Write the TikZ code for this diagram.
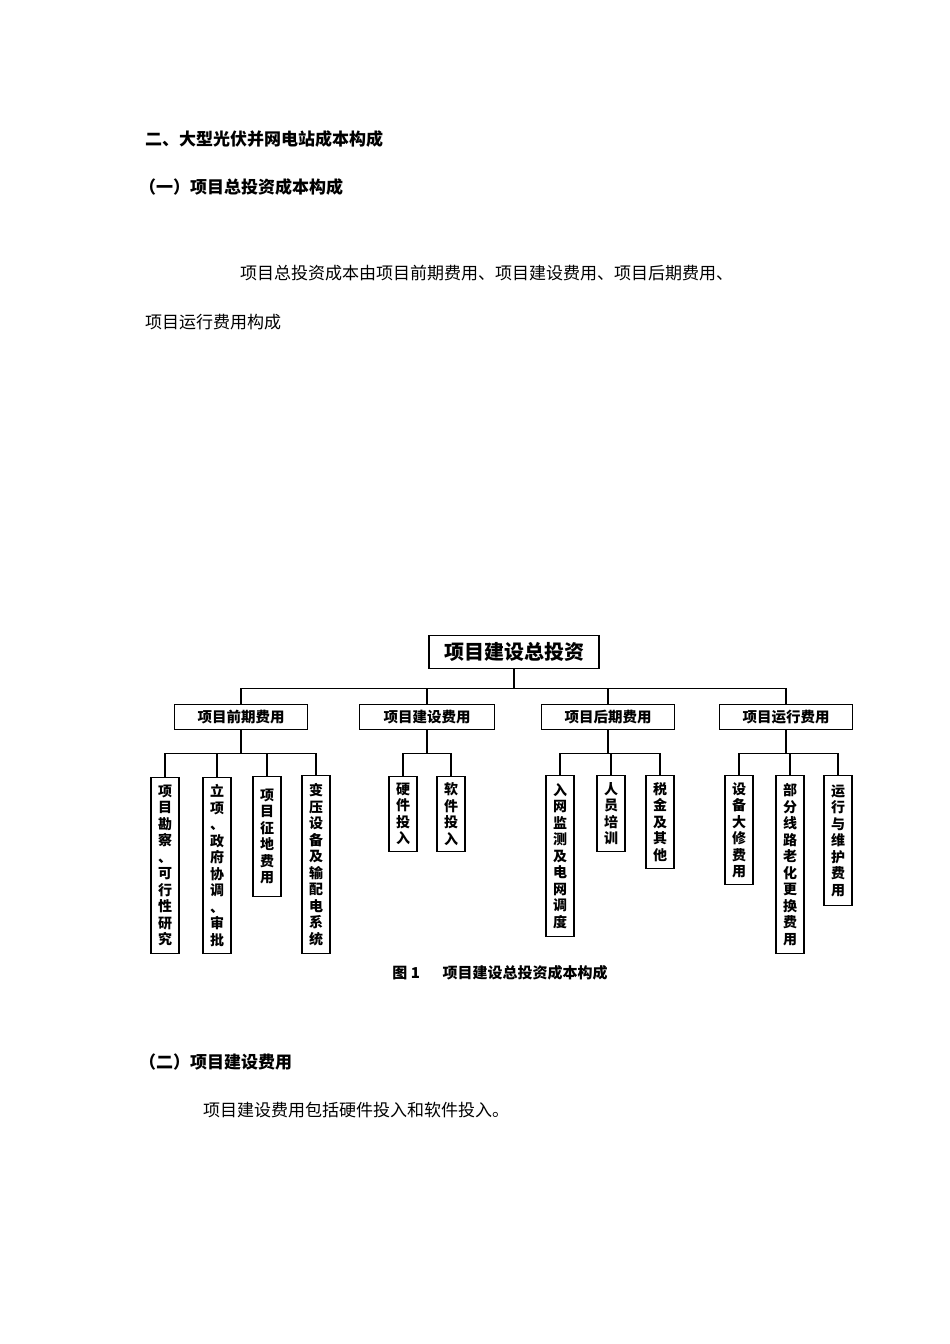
\documentclass[tikz,border=0pt]{standalone}
\usepackage{fontspec}
\setmainfont{Noto Sans CJK SC}
\begin{document}
\begin{tikzpicture}[x=1pt,y=-1pt,
  txt/.style={anchor=west,inner sep=0,font=\fontsize{17}{20}\selectfont},
  bx/.style={draw,line width=1.1pt,inner sep=0,font=\bfseries\fontsize{14.5}{17}\selectfont},
  leaf/.style={draw,line width=1.1pt,inner sep=0,anchor=north,minimum width=28,align=center,font=\bfseries\fontsize{14}{16.5}\selectfont},
  ln/.style={line width=1.1pt}]
\useasboundingbox (0,0) rectangle (950,1344);
\node[txt,font=\bfseries\fontsize{17}{20}\selectfont] (t1) at (145,139) {二、大型光伏并网电站成本构成};
\node[txt,font=\bfseries\fontsize{17}{20}\selectfont] (t2) at (139,187) {（一）项目总投资成本构成};
\node[txt] (p1) at (240,273) {项目总投资成本由项目前期费用、项目建设费用、项目后期费用、};
\node[txt] (p2) at (145,322) {项目运行费用构成};
\node[txt,font=\bfseries\fontsize{17}{20}\selectfont] (t3) at (139,1062) {（二）项目建设费用};
\node[txt] (p3) at (203,1110) {项目建设费用包括硬件投入和软件投入。};
% diagram
\node[bx,minimum width=170,minimum height=33,font=\bfseries\fontsize{20}{24}\selectfont] (top) at (514,652) {项目建设总投资};
\node[bx,minimum width=133,minimum height=25] (a) at (241,717) {项目前期费用};
\node[bx,minimum width=135,minimum height=25] (b) at (427,717) {项目建设费用};
\node[bx,minimum width=133,minimum height=25] (c) at (608,717) {项目后期费用};
\node[bx,minimum width=133,minimum height=25] (d) at (786,717) {项目运行费用};
\foreach \n in {a,b,c,d}{\draw[ln] (top.south) -- ++(0,19) -| (\n.north);}
\node[leaf,minimum height=176] (a1) at (165,777) {项\\目\\勘\\察\\、\\可\\行\\性\\研\\究};
\node[leaf,minimum height=176] (a2) at (217,777) {立\\项\\、\\政\\府\\协\\调\\、\\审\\批};
\node[leaf,minimum height=120] (a3) at (267,776) {项\\目\\征\\地\\费\\用};
\node[leaf,minimum height=178] (a4) at (316,775) {变\\压\\设\\备\\及\\输\\配\\电\\系\\统};
\node[leaf,minimum height=75] (b1) at (403,776) {硬\\件\\投\\入};
\node[leaf,minimum height=75] (b2) at (451,776) {软\\件\\投\\入};
\node[leaf,minimum height=161] (c1) at (560,775) {入\\网\\监\\测\\及\\电\\网\\调\\度};
\node[leaf,minimum height=76] (c2) at (611,775) {人\\员\\培\\训};
\node[leaf,minimum height=93] (c3) at (660,775) {税\\金\\及\\其\\他};
\node[leaf,minimum height=109] (d1) at (739,775) {设\\备\\大\\修\\费\\用};
\node[leaf,minimum height=178] (d2) at (790,775) {部\\分\\线\\路\\老\\化\\更\\换\\费\\用};
\node[leaf,minimum height=130] (d3) at (838,775) {运\\行\\与\\维\\护\\费\\用};
\foreach \p/\k in {a/a1,a/a2,a/a3,a/a4,b/b1,b/b2,c/c1,c/c2,c/c3,d/d1,d/d2,d/d3}{\draw[ln] (\p.south) -- ++(0,23) -| (\k.north);}
\node[inner sep=0,font=\bfseries\fontsize{15}{18}\selectfont] (cap) at (500,973) {图 1\hspace{1.5em}项目建设总投资成本构成};
\end{tikzpicture}
\end{document}
